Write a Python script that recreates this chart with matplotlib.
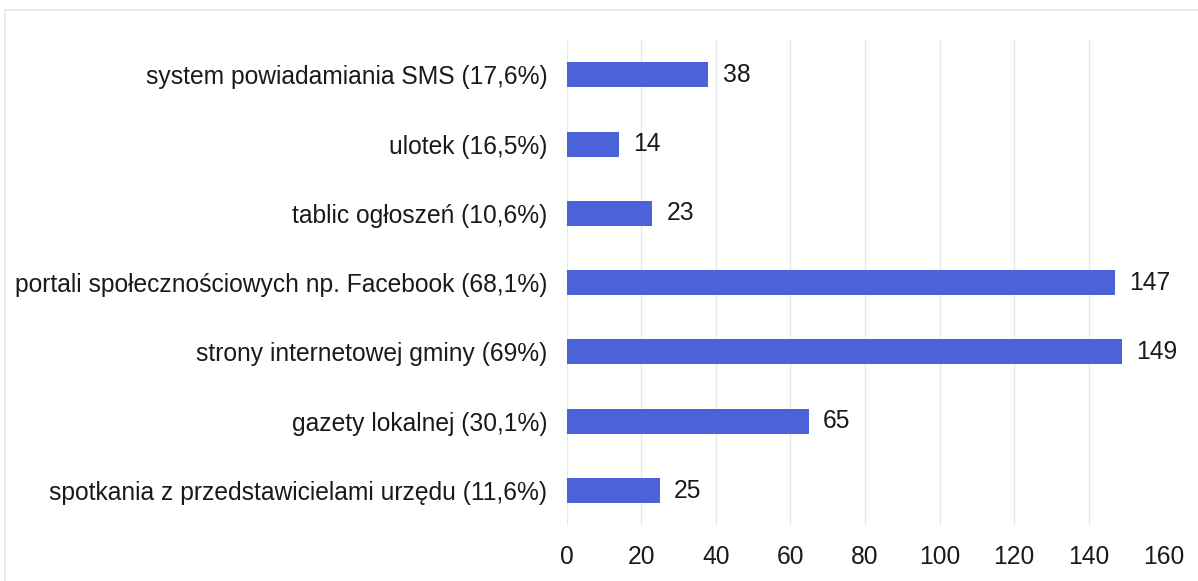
import matplotlib.pyplot as plt
from matplotlib.patches import Rectangle

# Data (top to bottom)
labels = [
    "system powiadamiania SMS (17,6%)",
    "ulotek (16,5%)",
    "tablic ogłoszeń (10,6%)",
    "portali społecznościowych np. Facebook (68,1%)",
    "strony internetowej gminy (69%)",
    "gazety lokalnej (30,1%)",
    "spotkania z przedstawicielami urzędu (11,6%)",
]
values = [38, 14, 23, 147, 149, 65, 25]
xticks = [0, 20, 40, 60, 80, 100, 120, 140, 160]

BAR_COLOR = "#4A64D8"
FS = 17.7
plt.rcParams['font.family'] = ['Liberation Sans', 'DejaVu Sans']

fig = plt.figure(figsize=(11.98, 5.81), dpi=100)
ax = fig.add_axes([0.473, 0.096, 0.498, 0.835])

pos = list(range(len(labels)))[::-1]
ax.barh(pos, values, height=0.36, color=BAR_COLOR, zorder=3)

for p, v in zip(pos, values):
    ax.text(v + 3.8, p, str(v), va="center", ha="left", fontsize=FS, color="#1a1a1a")

ax.set_xlim(0, 160)
ax.set_ylim(-0.5, len(labels) - 0.5)
ax.set_xticks(xticks)
ax.set_xticklabels([str(t) for t in xticks], fontsize=FS, color="#1a1a1a")
ax.set_yticks(pos)
ax.set_yticklabels(labels, fontsize=FS, color="#1a1a1a")
ax.tick_params(axis="both", length=0)
ax.tick_params(axis="x", pad=14)
ax.tick_params(axis="y", pad=14)

ax.grid(axis="x", color="#E6E6EC", linewidth=1, zorder=0)
for s in ax.spines.values():
    s.set_visible(False)

# faint outer frame of the original scan
fig.patches.append(Rectangle((0.004, -0.1), 1.1, 1.083, transform=fig.transFigure,
                             fill=False, edgecolor="#E8E8E8", linewidth=1.2))

fig.savefig("out.png", dpi=100, facecolor="white")
